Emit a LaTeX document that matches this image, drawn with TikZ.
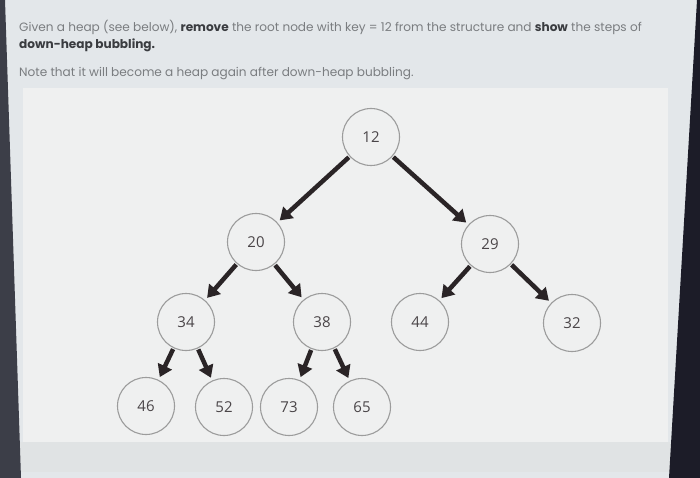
\documentclass[tikz,border=0pt]{standalone}
\usepackage{fontspec}
\setmainfont{Poppins}
\newfontfamily\labelfont{Open Sans}
\usetikzlibrary{arrows.meta}
\definecolor{screenbg}{HTML}{E3E7EA}
\definecolor{panelbg}{HTML}{EFF0F0}
\definecolor{bandbg}{HTML}{E0E3E4}
\definecolor{darkL}{HTML}{3C3E48}
\definecolor{darkR}{HTML}{1C1C28}
\definecolor{txtgray}{HTML}{7A7D80}
\definecolor{txtbold}{HTML}{3A3C40}
\definecolor{ringgray}{HTML}{9C9C9C}
\definecolor{keycol}{HTML}{4A4548}
\definecolor{arrowcol}{HTML}{2A2426}
\tikzset{
  heapnode/.style={circle, draw=ringgray, line width=1.1pt, fill=panelbg,
    minimum size=57pt, inner sep=0pt, font=\labelfont\fontsize{15}{17}\selectfont, text=keycol},
  heapedge/.style={draw=arrowcol, line width=4.5pt,
    -{Triangle[length=12pt,width=15pt]}, shorten >=3pt, shorten <=1pt},
  qtext/.style={anchor=base west, inner sep=0pt, text=txtgray, font=\fontsize{12.1}{14}\selectfont}
}
\begin{document}
\begin{tikzpicture}[x=1pt,y=-1pt]
\useasboundingbox (0,0) rectangle (700,478);
\fill[screenbg] (0,0) rectangle (700,478);
\fill[panelbg] (23,88) rectangle (668,442);
\fill[bandbg] (20,442) rectangle (672,472);
\fill[darkL] (0,0) -- (5,0) -- (21,478) -- (0,478) -- cycle;
\fill[darkR] (697,0) -- (700,0) -- (700,478) -- (669,478) -- cycle;

\node[qtext] (l1) at (19,32) {Given a heap (see below), \textcolor{txtbold}{\bfseries remove} the root node with key = 12 from the structure and \textcolor{txtbold}{\bfseries show} the steps of};
\node[qtext, text=txtbold, font=\fontsize{12.1}{14}\selectfont\bfseries] (l2) at (19,49) {down-heap bubbling.};
\node[qtext] (l3) at (19,77) {Note that it will become a heap again after down-heap bubbling.};

\node[heapnode] (n12) at (371,137) {12};
\node[heapnode] (n20) at (256,242) {20};
\node[heapnode] (n29) at (490,244) {29};
\node[heapnode] (n34) at (186,322) {34};
\node[heapnode] (n38) at (322,322) {38};
\node[heapnode] (n44) at (420,322) {44};
\node[heapnode] (n32) at (572,323) {32};
\node[heapnode] (n46) at (146,406) {46};
\node[heapnode] (n52) at (224,407) {52};
\node[heapnode] (n73) at (289,407) {73};
\node[heapnode] (n65) at (362,407) {65};

\draw[heapedge] (n12) -- (n20);
\draw[heapedge] (n12) -- (n29);
\draw[heapedge] (n20) -- (n34);
\draw[heapedge] (n20) -- (n38);
\draw[heapedge] (n29) -- (n44);
\draw[heapedge] (n29) -- (n32);
\draw[heapedge] (n34) -- (n46);
\draw[heapedge] (n34) -- (n52);
\draw[heapedge] (n38) -- (n73);
\draw[heapedge] (n38) -- (n65);
\end{tikzpicture}
\end{document}
